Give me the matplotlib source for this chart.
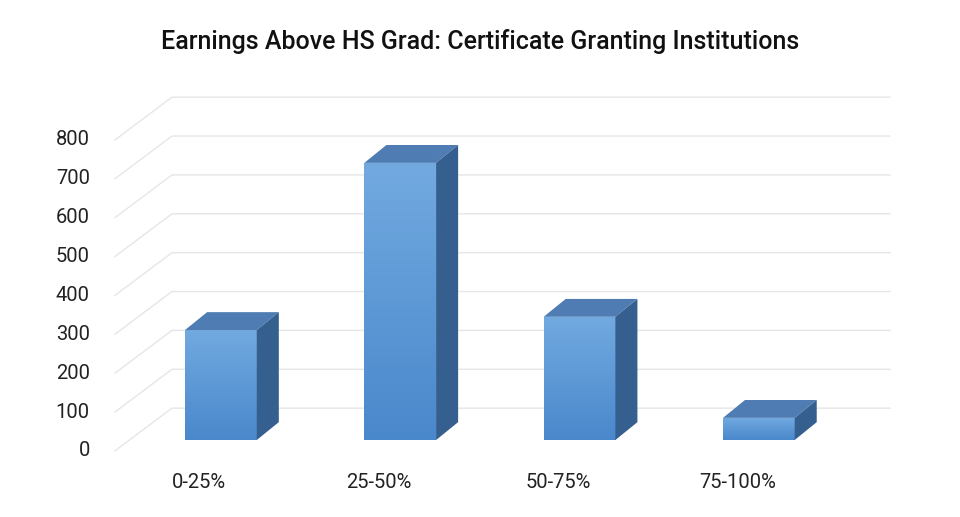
import matplotlib
matplotlib.use("Agg")
import matplotlib.pyplot as plt
from matplotlib.patches import Polygon, Rectangle
import numpy as np

categories = ["0-25%", "25-50%", "50-75%", "75-100%"]
values = [283, 713, 317, 57]
yticks = [0, 100, 200, 300, 400, 500, 600, 700, 800]
title = "Earnings Above HS Grad: Certificate Granting Institutions"

plt.rcParams['font.family'] = ['Roboto', 'DejaVu Sans']
fig = plt.figure(figsize=(9.6, 5.17), dpi=100)
ax = fig.add_axes([0, 0, 1, 1])
ax.set_xlim(-1.232, 4.122)
ax.set_ylim(-198, 1132)
ax.axis('off')

gl, gb, gr = -0.591, -0.273, 3.731
for v in yticks:
    ax.plot([gl, gb, gr], [v - 28, v + 82, v + 82], color='#e6e6e6', lw=1, zorder=1)
    ax.text(gl - 0.14, v - 28, str(v), ha='right', va='center', fontsize=14.5, color='#222222')

w, dx, dy = 0.4, 0.123, 46
grad = np.linspace(1, 0, 100).reshape(-1, 1)
cmap = matplotlib.colors.LinearSegmentedColormap.from_list('b', ['#4a88cc', '#72aae0'])
for i, (c, v) in enumerate(zip(categories, values)):
    x0, x1 = i - w / 2, i + w / 2
    im = ax.imshow(grad, extent=[x0, x1, 0, v], aspect='auto', cmap=cmap, zorder=3)
    r = Rectangle((x0, 0), w, v, facecolor='none', edgecolor='none')
    ax.add_patch(r)
    im.set_clip_path(r)
    ax.add_patch(Polygon([(x0, v), (x1, v), (x1 + dx, v + dy), (x0 + dx, v + dy)],
                         closed=True, facecolor='#4f7db3', edgecolor='none', zorder=3))
    ax.add_patch(Polygon([(x1, 0), (x1 + dx, dy), (x1 + dx, v + dy), (x1, v)],
                         closed=True, facecolor='#355f8e', edgecolor='none', zorder=3))
    ax.text(i - 0.12, -110, c, ha='center', va='center', fontsize=14.5, color='#222222')

fig.text(0.5, 1 - 42 / 517, title, ha='center', va='center', fontsize=18,
         fontweight='medium', color='#111111')
fig.savefig('out.png', dpi=100)
